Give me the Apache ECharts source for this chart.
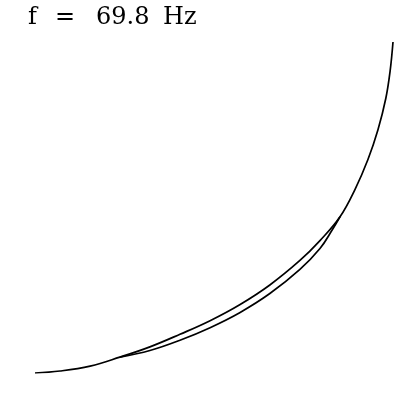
<!DOCTYPE html>
<html>
<head>
<meta charset="utf-8">
<style>
  html, body { margin: 0; padding: 0; background: #fff; }
  #chart { width: 404px; height: 406px; }
</style>
<script src="https://cdn.jsdelivr.net/npm/echarts@6/dist/echarts.min.js"></script>
</head>
<body>
<div id="chart"></div>
<script>
// Response locus at the given frequency (normalised real / imaginary parts)
const frequencyHz = 69.8;

// Main locus
const outerRe = [0.000, 0.070, 0.154, 0.237, 0.321, 0.405, 0.489, 0.573, 0.656, 0.740,
                 0.796, 0.852, 0.894, 0.930, 0.958, 0.980, 0.992, 1.000];
const outerIm = [0.000, 0.006, 0.021, 0.048, 0.079, 0.117, 0.158, 0.207, 0.266, 0.340,
                 0.400, 0.472, 0.555, 0.645, 0.735, 0.830, 0.913, 1.000];

// Second branch that separates from the main locus and rejoins it
const innerRe = [0.237, 0.321, 0.405, 0.489, 0.573, 0.656, 0.740, 0.796, 0.830, 0.852];
const innerIm = [0.048, 0.068, 0.099, 0.137, 0.183, 0.240, 0.313, 0.376, 0.432, 0.472];

const zip = (xs, ys) => xs.map((x, i) => [x, ys[i]]);

const labelFont = '24px "DejaVu Serif", "Liberation Serif", serif';
const chart = echarts.init(document.getElementById('chart'), null, { renderer: 'canvas' });

chart.setOption({
  animation: false,
  backgroundColor: '#ffffff',
  grid: { left: 35, right: 11, top: 42, bottom: 33 },
  xAxis: { type: 'value', min: 0, max: 1, show: false },
  yAxis: { type: 'value', min: 0, max: 1, show: false },
  graphic: [
    { type: 'text', left: 28, top: 6, style: { text: 'f', font: labelFont, fill: '#000' } },
    { type: 'text', left: 55, top: 6, style: { text: '=', font: labelFont, fill: '#000' } },
    { type: 'text', left: 96, top: 6, style: { text: frequencyHz.toFixed(1), font: labelFont, fill: '#000' } },
    { type: 'text', left: 163, top: 6, style: { text: 'Hz', font: labelFont, fill: '#000' } }
  ],
  series: [
    {
      type: 'line',
      data: zip(outerRe, outerIm),
      smooth: 0.4,
      showSymbol: false,
      lineStyle: { color: '#000', width: 1.7 }
    },
    {
      type: 'line',
      data: zip(innerRe, innerIm),
      smooth: 0.4,
      showSymbol: false,
      lineStyle: { color: '#000', width: 1.7 }
    }
  ]
});
</script>
</body>
</html>
